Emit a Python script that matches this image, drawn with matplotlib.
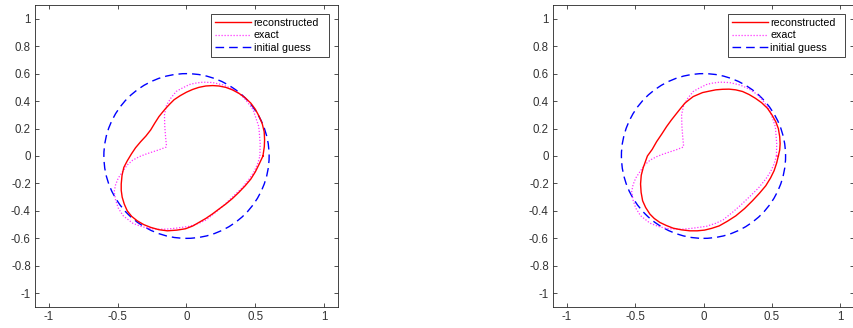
import numpy as np
import matplotlib
matplotlib.use("Agg")
import matplotlib.pyplot as plt
from matplotlib.patches import Circle
from matplotlib.lines import Line2D

############# DATA ######################################

# exact boundary (same in both panels)
exact_x = [0.533, 0.535, 0.525, 0.484, 0.43, 0.39, 0.33, 0.265, 0.19, 0.12, 0.06, 0.02,
           -0.04, -0.075, -0.115, -0.145, -0.16, -0.158, -0.152, -0.146, -0.148, -0.2,
           -0.246, -0.30, -0.343, -0.39, -0.43, -0.465, -0.495, -0.515, -0.525, -0.515,
           -0.495, -0.46, -0.39, -0.33, -0.27, -0.2, -0.148, -0.07, 0.022, 0.09, 0.144,
           0.212, 0.27, 0.333, 0.40, 0.455, 0.49, 0.516, 0.533]
exact_y = [0.0, 0.09, 0.214, 0.336, 0.41, 0.45, 0.49, 0.518, 0.535, 0.538, 0.53, 0.52,
           0.49, 0.47, 0.42, 0.37, 0.30, 0.22, 0.14, 0.08, 0.065, 0.045,
           0.03, 0.012, -0.005, -0.03, -0.065, -0.115, -0.16, -0.21, -0.26, -0.32,
           -0.38, -0.435, -0.49, -0.513, -0.528, -0.533, -0.533, -0.525, -0.512, -0.49, -0.465,
           -0.41, -0.36, -0.30, -0.235, -0.168, -0.115, -0.058, 0.0]

# reconstructed boundary, left panel
rec1_x = [0.555, 0.565, 0.567, 0.564, 0.55, 0.528, 0.5, 0.467, 0.425, 0.38, 0.333, 0.285,
          0.235, 0.19, 0.14, 0.09, 0.045, 0.0, -0.045, -0.09, -0.12, -0.15, -0.175, -0.2,
          -0.23, -0.26, -0.295, -0.333, -0.37, -0.40, -0.43, -0.455, -0.468, -0.474, -0.474,
          -0.467, -0.452, -0.43, -0.398, -0.358, -0.31, -0.26, -0.2, -0.139, -0.07, -0.007,
          0.045, 0.09, 0.14, 0.187, 0.235, 0.285, 0.333, 0.38, 0.425, 0.467, 0.5, 0.528, 0.555]
rec1_y = [0.0, 0.068, 0.12, 0.177, 0.235, 0.287, 0.34, 0.385, 0.425, 0.457, 0.482, 0.50,
          0.51, 0.513, 0.51, 0.50, 0.485, 0.465, 0.44, 0.41, 0.38, 0.348, 0.318, 0.287,
          0.24, 0.19, 0.145, 0.104, 0.06, 0.015, -0.035, -0.083, -0.14, -0.204, -0.25,
          -0.30, -0.35, -0.40, -0.44, -0.472, -0.50, -0.52, -0.537, -0.545, -0.54, -0.53,
          -0.51, -0.484, -0.455, -0.423, -0.387, -0.35, -0.31, -0.265, -0.218, -0.168, -0.115, -0.058, 0.0]

# reconstructed boundary, right panel
rec2_x = [0.547, 0.557, 0.56, 0.557, 0.547, 0.528, 0.5, 0.467, 0.425, 0.38, 0.333, 0.285,
          0.235, 0.187, 0.14, 0.09, 0.04, -0.007, -0.04, -0.075, -0.105, -0.136, -0.165,
          -0.197, -0.235, -0.27, -0.305, -0.343, -0.375, -0.41, -0.44, -0.455, -0.46, -0.456,
          -0.445, -0.423, -0.392, -0.36, -0.319, -0.27, -0.221, -0.16, -0.1, -0.045, 0.007,
          0.06, 0.115, 0.175, 0.236, 0.3, 0.358, 0.41, 0.455, 0.49, 0.516, 0.535, 0.547]
rec2_y = [0.0, 0.044, 0.09, 0.141, 0.2, 0.25, 0.3, 0.348, 0.388, 0.42, 0.448, 0.47,
          0.482, 0.487, 0.486, 0.482, 0.472, 0.462, 0.448, 0.433, 0.41, 0.385, 0.35,
          0.31, 0.262, 0.214, 0.16, 0.104, 0.048, 0.0, -0.083, -0.14, -0.204, -0.265,
          -0.326, -0.375, -0.423, -0.455, -0.484, -0.507, -0.526, -0.538, -0.545, -0.545, -0.54,
          -0.527, -0.509, -0.475, -0.436, -0.383, -0.326, -0.27, -0.217, -0.16, -0.107, -0.05, 0.0]

guess_radius = 0.6
ticks_x = [-1, -0.5, 0, 0.5, 1]
ticks_y = [-1, -0.8, -0.6, -0.4, -0.2, 0, 0.2, 0.4, 0.6, 0.8, 1]
xlabels = ['-1', '-0.5', '0', '0.5', '1']
ylabels = ['-1', '-0.8', '-0.6', '-0.4', '-0.2', '0', '0.2', '0.4', '0.6', '0.8', '1']
labels = ['reconstructed', 'exact', 'initial guess']

############# PLOT ###############

plt.rcParams['font.family'] = ['Liberation Sans', 'DejaVu Sans']
plt.rcParams['axes.linewidth'] = 0.6
plt.rcParams['axes.edgecolor'] = '#262626'

fig = plt.figure(figsize=(8.54, 3.28), dpi=100)
ax1 = fig.add_axes([35/854, 21/328, 303/854, 302/328])
ax2 = fig.add_axes([553/854, 21/328, 301/854, 302/328])

dash = (0, (6.2, 3.6))
dots = (0, (1, 1.4))

for ax, rx, ry in [(ax1, rec1_x, rec1_y), (ax2, rec2_x, rec2_y)]:
    ax.add_patch(Circle((0, 0), guess_radius, fill=False, edgecolor='#0000ff',
                        lw=1.0, linestyle=dash))
    ax.plot(exact_x, exact_y, color='#ff33ff', lw=0.9, linestyle=dots)
    ax.plot(rx, ry, color='#ff0000', lw=1.0)

    ax.set_xlim(-1.1, 1.1)
    ax.set_ylim(-1.1, 1.1)
    ax.set_xticks(ticks_x)
    ax.set_xticklabels(xlabels)
    ax.set_yticks(ticks_y)
    ax.set_yticklabels(ylabels)
    ax.tick_params(direction='in', length=3, width=0.6, top=True, right=True,
                   colors='#333333', labelsize=8.3, pad=3)

    handles = [Line2D([], [], color='#ff0000', lw=1.0),
               Line2D([], [], color='#ff33ff', lw=0.9, linestyle=dots),
               Line2D([], [], color='#0000ff', lw=1.0, linestyle=dash)]
    leg = ax.legend(handles, labels, loc='upper left', fontsize=7.7, fancybox=False,
                    bbox_to_anchor=(176/303, 0.0, 118/303, 293/302), mode='expand',
                    framealpha=1, edgecolor='#262626', borderpad=0.38, handlelength=3.4,
                    handletextpad=0.2, labelspacing=0.22, borderaxespad=0)
    leg.get_frame().set_linewidth(0.6)

plt.savefig("out.png", dpi=100)
plt.close()
